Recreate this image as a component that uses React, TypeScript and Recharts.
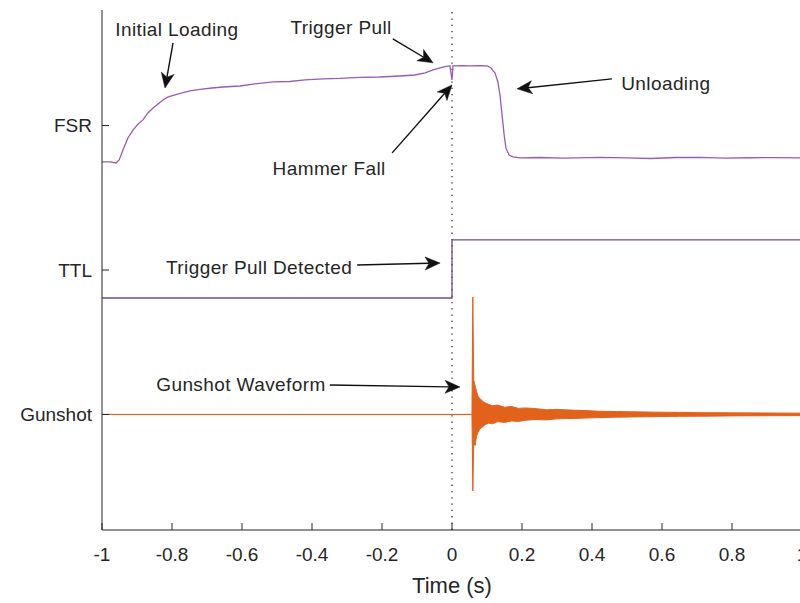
import React from 'react';
import {
  ComposedChart,
  Line,
  Area,
  XAxis,
  YAxis,
  ReferenceLine,
  ReferenceDot,
} from 'recharts';

// Channel offsets on the shared y axis: Gunshot = 0, TTL = 1, FSR = 2
const channelTicks = [0, 1, 2];
const channelLabels = ['Gunshot', 'TTL', 'FSR'];
const timeTicks = [-1, -0.8, -0.6, -0.4, -0.2, 0, 0.2, 0.4, 0.6, 0.8, 1];

// Force-sensitive resistor trace
const fsrTime = [
  -1, -0.977, -0.96, -0.951, -0.94, -0.926, -0.911, -0.897, -0.883, -0.869,
  -0.854, -0.84, -0.826, -0.811, -0.791, -0.771, -0.749, -0.72, -0.686, -0.654,
  -0.606, -0.563, -0.511, -0.463, -0.42, -0.369, -0.32, -0.263, -0.206, -0.149,
  -0.106, -0.077, -0.054, -0.034, -0.017, -0.006, 0, 0.003, 0.03, 0.051,
  0.08, 0.1, 0.111, 0.123, 0.131, 0.137, 0.143, 0.149, 0.154, 0.163,
  0.174, 0.194, 0.25, 0.32, 0.423, 0.5, 0.566, 0.64, 0.709, 0.78,
  0.851, 0.92, 1,
];
const fsrValue = [
  1.748, 1.748, 1.741, 1.762, 1.83, 1.914, 1.97, 2.011, 2.039, 2.087,
  2.122, 2.149, 2.177, 2.198, 2.212, 2.226, 2.24, 2.25, 2.26, 2.267,
  2.274, 2.288, 2.302, 2.305, 2.316, 2.323, 2.326, 2.333, 2.336, 2.343,
  2.35, 2.364, 2.385, 2.4, 2.41, 2.413, 2.316, 2.413, 2.415, 2.413,
  2.414, 2.413, 2.4, 2.364, 2.302, 2.212, 2.074, 1.935, 1.845, 1.796,
  1.783, 1.776, 1.779, 1.774, 1.78, 1.776, 1.772, 1.779, 1.78, 1.775,
  1.777, 1.778, 1.776,
];

// TTL trigger line
const ttlTime = [-1, 0, 0, 1];
const ttlValue = [0.806, 0.806, 1.208, 1.208];

// Microphone envelope (lower / upper extent per time step)
const gunshotTime = [
  -1, 0.057, 0.0595, 0.062, 0.066, 0.07, 0.075, 0.08, 0.088, 0.095,
  0.105, 0.115, 0.13, 0.15, 0.17, 0.19, 0.21, 0.24, 0.27, 0.3,
  0.34, 0.38, 0.42, 0.47, 0.52, 0.58, 0.65, 0.72, 0.8, 0.9, 1,
];
const gunshotLow = [
  0, 0, -0.53, -0.2, -0.215, -0.15, -0.12, -0.1, -0.085, -0.07,
  -0.06, -0.065, -0.05, -0.055, -0.045, -0.048, -0.04, -0.035, -0.038, -0.03,
  -0.028, -0.025, -0.022, -0.019, -0.017, -0.015, -0.013, -0.012, -0.01, -0.009, -0.008,
];
const gunshotHigh = [
  0, 0, 0.813, 0.24, 0.2, 0.16, 0.12, 0.11, 0.09, 0.08,
  0.07, 0.06, 0.065, 0.05, 0.055, 0.042, 0.045, 0.04, 0.032, 0.035,
  0.03, 0.027, 0.022, 0.02, 0.018, 0.016, 0.014, 0.012, 0.011, 0.01, 0.009,
];

// Annotation text (centre position in data units)
const noteText = [
  'Initial Loading',
  'Trigger Pull',
  'Hammer Fall',
  'Unloading',
  'Trigger Pull Detected',
  'Gunshot Waveform',
];
const noteT = [-0.786, -0.317, -0.351, 0.611, -0.551, -0.603];
const noteY = [2.662, 2.676, 1.706, 2.288, 1.014, 0.204];

// Annotation arrows (tail -> head, data units)
const arrowFromT = [-0.797, -0.169, -0.171, 0.457, -0.271, -0.349];
const arrowFromY = [2.572, 2.6, 1.811, 2.323, 1.035, 0.204];
const arrowToT = [-0.82, -0.054, 0, 0.186, -0.034, 0.023];
const arrowToY = [2.26, 2.434, 2.281, 2.254, 1.048, 0.19];

const FONT = '"Liberation Sans", Arial, Helvetica, sans-serif';
const INK = '#262626';

const fsrData = fsrTime.map((t, i) => ({ t, v: fsrValue[i] }));
const ttlData = ttlTime.map((t, i) => ({ t, v: ttlValue[i] }));
const gunshotData = gunshotTime.map((t, i) => ({
  t,
  band: [gunshotLow[i], gunshotHigh[i]],
}));

const Arrow = (props: any) => {
  const { x1, y1, x2, y2 } = props;
  const dx = x2 - x1;
  const dy = y2 - y1;
  const len = Math.hypot(dx, dy) || 1;
  const ux = dx / len;
  const uy = dy / len;
  const nx = -uy;
  const ny = ux;
  const head = 15;
  const half = 6.5;
  const notch = 4;
  const bx = x2 - ux * head;
  const by = y2 - uy * head;
  const mx = x2 - ux * (head - notch);
  const my = y2 - uy * (head - notch);
  const pts = [
    [x2, y2],
    [bx + nx * half, by + ny * half],
    [mx, my],
    [bx - nx * half, by - ny * half],
  ]
    .map((p) => `${p[0]},${p[1]}`)
    .join(' ');
  return (
    <g>
      <line x1={x1} y1={y1} x2={mx} y2={my} stroke="#111" strokeWidth={1.4} />
      <polygon points={pts} fill="#111" stroke="#111" strokeWidth={0.5} />
    </g>
  );
};

const makeNote = (text: string) => (props: any) => (
  <text
    x={props.cx}
    y={props.cy}
    textAnchor="middle"
    dominantBaseline="central"
    fontFamily={FONT}
    fontSize={19}
    letterSpacing={0.4}
    fill={INK}
  >
    {text}
  </text>
);

export default function App() {
  return (
    <div
      style={{
        position: 'absolute',
        left: 0,
        top: 0,
        width: 800,
        height: 603,
        overflow: 'hidden',
        background: '#fff',
      }}
    >
      <ComposedChart
        width={810}
        height={603}
        margin={{ top: 10, right: 8, bottom: 0, left: 0 }}
      >
        <XAxis
          dataKey="t"
          type="number"
          domain={[-1, 1]}
          ticks={timeTicks}
          allowDataOverflow
          height={73}
          stroke={INK}
          tickSize={-7}
          tickMargin={25}
          tick={{ fill: INK, fontSize: 19, fontFamily: FONT }}
          label={{
            value: 'Time (s)',
            position: 'insideBottom',
            offset: 10,
            fontSize: 22,
            fontFamily: FONT,
            fill: INK,
          }}
        />
        <YAxis
          type="number"
          domain={[-0.8, 2.8]}
          ticks={channelTicks}
          allowDataOverflow
          width={102}
          stroke={INK}
          tickSize={-7}
          tickMargin={17}
          tickFormatter={(v: number) => channelLabels[v] ?? ''}
          tick={{ fill: INK, fontSize: 19, fontFamily: FONT }}
        />
        <ReferenceLine
          x={0}
          stroke="#333"
          strokeWidth={1.3}
          strokeDasharray="1.3 5"
        />
        <Area
          data={gunshotData}
          dataKey="band"
          type="linear"
          stroke="#E2621B"
          strokeWidth={1}
          fill="#E2621B"
          fillOpacity={1}
          isAnimationActive={false}
          dot={false}
          activeDot={false}
        />
        <Line
          data={ttlData}
          dataKey="v"
          type="linear"
          stroke="#6a4c93"
          strokeWidth={1.3}
          dot={false}
          activeDot={false}
          isAnimationActive={false}
        />
        <Line
          data={fsrData}
          dataKey="v"
          type="linear"
          stroke="#9a5bb3"
          strokeWidth={1.3}
          dot={false}
          activeDot={false}
          isAnimationActive={false}
        />
        {arrowFromT.map((t, i) => (
          <ReferenceLine
            key={`arrow-${i}`}
            segment={[
              { x: t, y: arrowFromY[i] },
              { x: arrowToT[i], y: arrowToY[i] },
            ]}
            shape={(p: any) => <Arrow {...p} />}
          />
        ))}
        {noteText.map((text, i) => (
          <ReferenceDot
            key={`note-${i}`}
            x={noteT[i]}
            y={noteY[i]}
            r={0}
            shape={makeNote(text)}
          />
        ))}
      </ComposedChart>
    </div>
  );
}
